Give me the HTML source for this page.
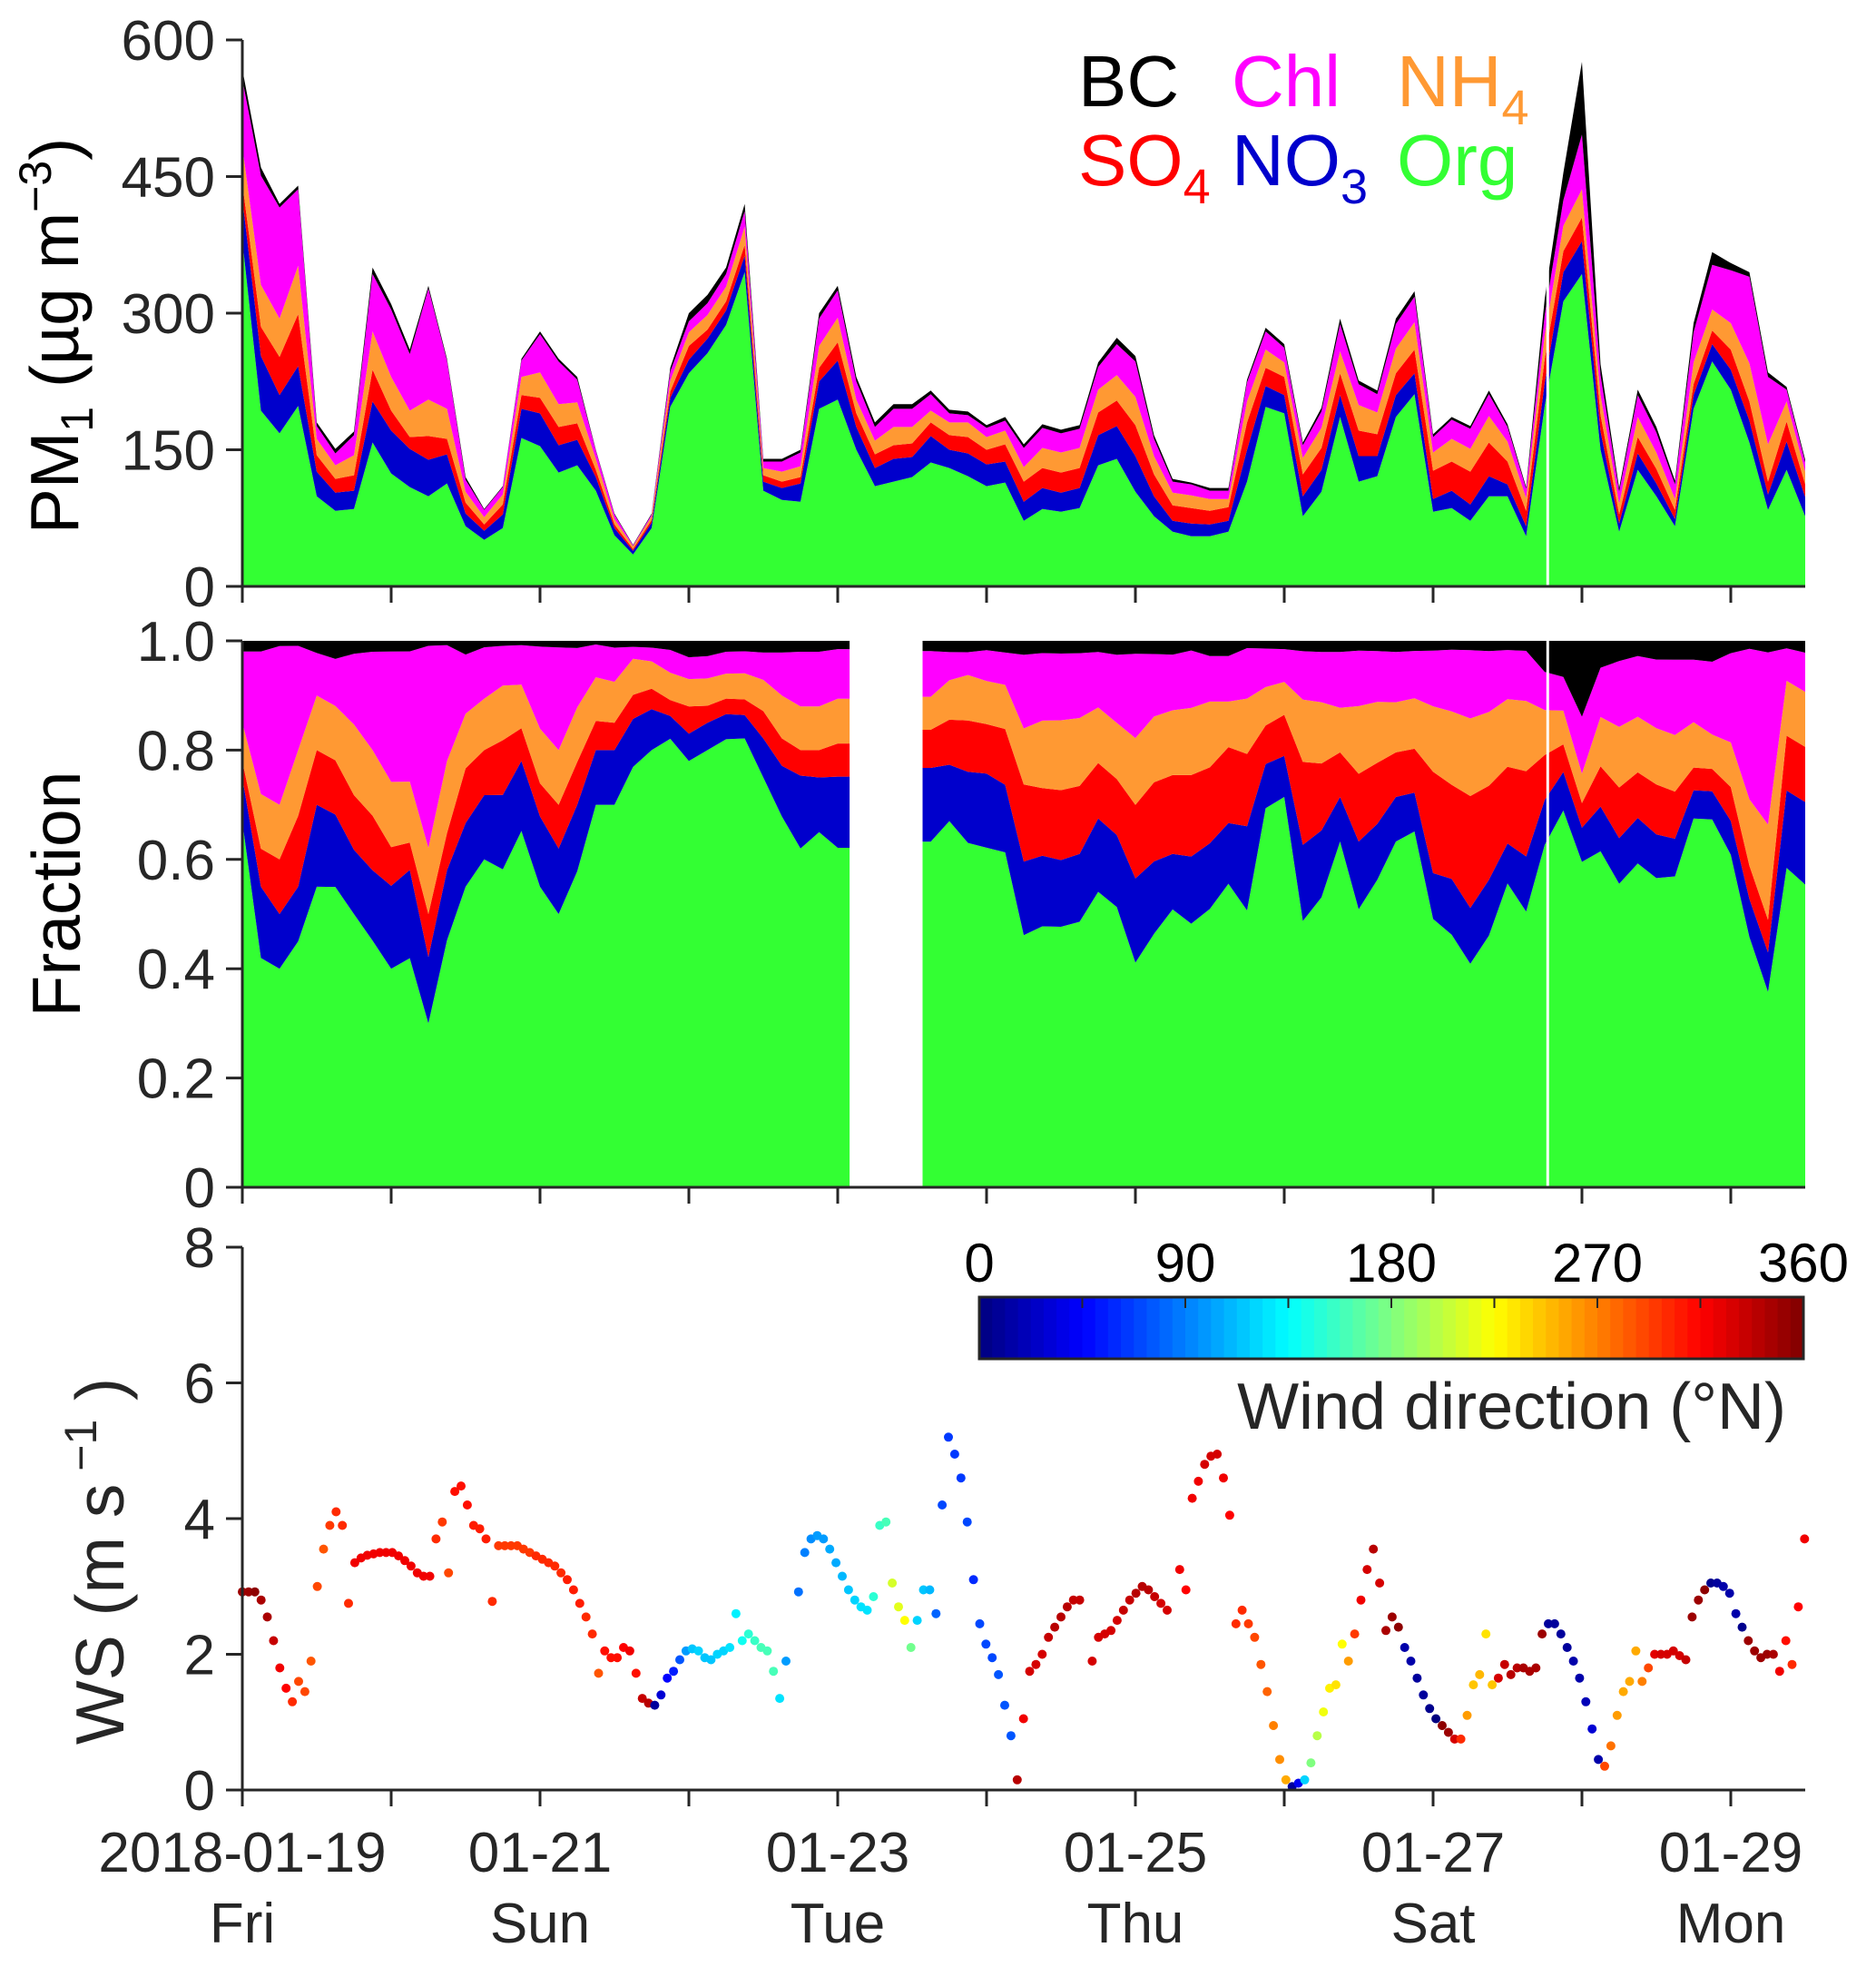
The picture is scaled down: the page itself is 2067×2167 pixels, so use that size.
<!DOCTYPE html>
<html><head><meta charset="utf-8"><style>
body{margin:0;background:#fff}
svg{display:block;font-family:"Liberation Sans",Arial,sans-serif}
</style></head><body>
<svg id="chart" width="2067" height="2167" viewBox="0 0 2067 2167" xmlns="http://www.w3.org/2000/svg">
<g id="g-top"></g>
<g id="g-mid"></g>
<g id="g-bot"></g>
<g id="g-axes"></g>
<g font-size="80">
<text x="1188" y="117" fill="#000">BC</text>
<text x="1357" y="117" fill="#ff00ff">Chl</text>
<text x="1539" y="117" fill="#ff9933">NH<tspan font-size="54" dy="20">4</tspan></text>
<text x="1188" y="204" fill="#ff0000">SO<tspan font-size="54" dy="20">4</tspan></text>
<text x="1357" y="204" fill="#0000cc">NO<tspan font-size="54" dy="20">3</tspan></text>
<text x="1539" y="204" fill="#33ff33">Org</text>
</g>
<text transform="translate(86,370) rotate(-90)" text-anchor="middle" font-size="75" fill="#000">PM<tspan font-size="50" dy="16">1</tspan><tspan dy="-16"> (µg m</tspan><tspan font-size="50" dy="-30">−3</tspan><tspan dy="30">)</tspan></text>
<text transform="translate(88,985) rotate(-90)" text-anchor="middle" font-size="75" fill="#000">Fraction</text>
<text transform="translate(136,1720) rotate(-90)" text-anchor="middle" font-size="75" fill="#262626">WS (m s<tspan font-size="50" dy="-30"> −1</tspan><tspan dy="30"> )</tspan></text>
<text x="1968" y="1574" text-anchor="end" font-size="72" fill="#262626">Wind direction (°N)</text>
</svg>
<script>
// ---- data: PM1 species (µg m-3), 3-hourly from 2018-01-19 00:00 ----
const stepDays = 0.125;
const org = [380,193,168,198,99,83,85,158,124,109,99,113,66,51,64,163,154,125,133,105,56,35,64,197,234,256,287,345,105,95,93,195,205,150,110,115,120,136,130,121,110,114,72,85,82,86,133,140,104,77,60,55,55,60,115,197,190,77,104,186,115,121,186,211,82,86,72,99,99,55,198,313,343,150,60,128,99,66,195,247,216,158,84,128,77];
const no3 = [46,60,42,44,27,20,20,45,47,42,40,32,14,10,15,32,36,30,28,15,8,4,6,10,15,16,16,18,10,13,20,30,43,25,20,25,22,29,20,25,24,23,21,23,21,22,33,36,39,22,12,14,13,12,35,23,20,22,24,24,28,22,24,23,14,19,18,22,13,11,26,32,36,20,9,18,14,8,15,19,22,24,17,31,21];
const so4 = [17,32,42,57,18,15,17,35,22,13,26,17,12,7,11,15,17,20,18,8,4,2,3,7,15,10,10,12,7,7,7,15,20,15,15,15,15,15,16,18,16,19,22,22,22,22,25,28,34,24,17,17,15,15,30,20,20,24,24,24,28,24,24,26,31,32,36,37,25,17,26,23,26,18,10,18,16,10,12,15,22,21,14,22,14];
const nh4 = [40,46,42,53,18,15,22,42,37,29,40,33,12,8,11,20,28,25,23,12,6,3,4,12,15,16,16,20,8,11,12,24,27,15,15,20,18,13,14,16,14,15,16,22,22,22,25,28,31,20,14,14,13,9,23,20,16,18,22,24,28,24,27,30,20,25,25,29,22,14,26,28,31,22,12,22,18,12,24,23,29,42,41,22,14];
const chl = [74,120,122,84,14,13,22,63,74,62,122,53,13,8,8,18,42,47,25,9,5,1,2,10,12,13,14,17,7,11,15,30,30,20,15,20,20,18,10,8,10,11,21,22,21,21,25,34,39,19,12,12,9,9,21,20,16,14,18,30,23,20,27,28,17,21,22,24,16,10,22,28,60,22,13,24,22,16,33,49,58,95,74,13,10];
const bc  = [11,9,4,4,4,5,4,7,6,5,3,2,3,1,1,2,3,3,3,1,1,0.5,1,4,9,9,7,8,3,3,3,6,5,5,5,5,5,4,4,4,3,4,4,4,4,4,5,7,6,4,3,2,3,3,3,4,4,3,4,6,4,4,6,6,3,3,3,4,3,2,18,30,80,12,4,6,6,4,10,14,8,5,5,3,3];
const fracGap = [4.08, 4.57];      // missing data in fraction panel (days)
const whiteLineDay = 8.77;
// ---- wind (hourly) ----
const windStepHours = 1.0076;
const ws = [2.92,2.92,2.92,2.8,2.55,2.2,1.8,1.5,1.3,1.6,1.45,1.9,3.0,3.55,3.9,4.1,3.9,2.75,3.35,3.42,3.46,3.48,3.5,3.5,3.5,3.45,3.38,3.3,3.2,3.15,3.15,3.7,3.95,3.2,4.4,4.48,4.2,3.9,3.85,3.7,2.78,3.6,3.6,3.6,3.6,3.55,3.5,3.45,3.4,3.35,3.3,3.2,3.1,2.95,2.75,2.55,2.3,1.72,2.05,1.95,1.95,2.1,2.05,1.72,1.35,1.28,1.25,1.4,1.65,1.75,1.92,2.05,2.08,2.05,1.95,1.92,2.0,2.05,2.1,2.6,2.2,2.3,2.2,2.1,2.05,1.75,1.35,1.9,null,2.92,3.5,3.7,3.75,3.7,3.55,3.35,3.15,2.95,2.8,2.7,2.65,2.85,3.9,3.95,3.05,2.7,2.5,2.1,2.5,2.95,2.95,2.6,4.2,5.2,4.95,4.6,3.95,3.1,2.45,2.15,1.95,1.7,1.25,0.8,0.15,1.05,1.75,1.85,2.0,2.25,2.4,2.55,2.7,2.8,2.8,null,1.9,2.25,2.3,2.35,2.5,2.65,2.8,2.9,3.0,2.95,2.85,2.75,2.65,null,3.25,2.95,4.3,4.55,4.8,4.92,4.95,4.6,4.05,2.45,2.65,2.45,2.25,1.85,1.45,0.95,0.45,0.15,0.05,0.1,0.15,0.4,0.8,1.15,1.5,1.55,2.15,1.9,2.3,2.8,3.25,3.55,3.05,2.35,2.55,2.4,2.1,1.9,1.65,1.4,1.2,1.05,0.95,0.85,0.75,0.75,1.1,1.55,1.7,2.3,1.55,1.65,1.85,1.7,1.8,1.8,1.75,1.8,2.3,2.45,2.45,2.3,2.1,1.9,1.65,1.3,0.9,0.45,0.35,0.65,1.1,1.45,1.6,2.05,1.6,1.8,2.0,2.0,2.0,2.05,1.98,1.92,2.55,2.8,2.95,3.05,3.05,3.0,2.9,2.6,2.4,2.2,2.05,1.95,2.0,2.0,1.75,2.2,1.85,2.7,3.7];
const wd = [350,350,355,345,345,335,320,315,300,290,290,285,290,285,295,300,300,300,320,320,320,320,320,320,320,320,320,320,320,320,320,300,295,290,310,310,310,305,305,305,300,295,295,295,295,295,295,300,300,300,300,300,305,305,305,300,300,285,310,310,310,315,320,310,335,340,10,30,45,55,75,100,115,120,115,115,120,120,125,130,140,150,155,160,160,160,125,100,null,85,90,95,100,100,105,105,110,115,120,125,125,150,155,160,210,215,225,175,120,115,110,80,70,65,65,65,70,60,70,70,70,75,75,75,340,320,330,330,330,335,340,340,340,335,335,null,330,330,330,330,330,335,335,340,340,340,335,330,330,null,320,315,320,320,330,330,330,320,315,300,300,295,290,285,280,270,265,255,10,40,120,180,200,220,230,235,225,260,295,320,330,340,330,345,350,355,15,15,10,10,5,0,355,350,330,300,260,245,250,235,245,330,335,340,340,345,345,345,350,10,10,10,10,15,15,20,30,15,290,275,260,255,255,255,270,290,325,330,330,330,330,335,350,350,355,5,10,15,15,15,5,350,350,350,350,345,320,310,300,315,320];
const dateLabels = ["2018-01-19","01-21","01-23","01-25","01-27","01-29"];
const dayLabels = ["Fri","Sun","Tue","Thu","Sat","Mon"];
const pmTicks = [0,150,300,450,600];
const fracTicks = [0,0.2,0.4,0.6,0.8,1.0];
const fracTickLabels = ["0","0.2","0.4","0.6","0.8","1.0"];
const wsTicks = [0,2,4,6,8];
const cbTicks = [0,90,180,270,360];

const NS="http://www.w3.org/2000/svg";
function mk(tag, attrs, parent){const e=document.createElementNS(NS,tag);for(const k in attrs)e.setAttribute(k,attrs[k]);parent.appendChild(e);return e;}
const X0=267, X1=1989, DAYS=10.5;
const xs = d => X0 + (X1-X0)*d/DAYS;
const yTop = v => 646 - (646-44)*v/600;
const yMid = v => 1308 - (1308-706)*v;
const yBot = v => 1972 - (1972-1374)*v/8;
const AX="#262626";
const series=[org,no3,so4,nh4,chl,bc];
const names=["org","no3","so4","nh4","chl","bc"];
const cols=["#33ff33","#0000cc","#ff0000","#ff9933","#ff00ff","#000000"];
const n=org.length;
const cum=[];
for(let i=0;i<n;i++){let s=0;const c=[0];for(let k=0;k<6;k++){s+=series[k][i];c.push(s);}cum.push(c);}

const gT=document.getElementById('g-top'), gM=document.getElementById('g-mid'), gB=document.getElementById('g-bot'), gA=document.getElementById('g-axes');
for(let k=0;k<6;k++){
  let d="";
  for(let i=0;i<n;i++) d+=(i?"L":"M")+xs(i*stepDays).toFixed(1)+","+yTop(Math.min(cum[i][k+1],600)).toFixed(1);
  for(let i=n-1;i>=0;i--) d+="L"+xs(i*stepDays).toFixed(1)+","+yTop(Math.min(cum[i][k],600)).toFixed(1);
  const p=mk('path',{d:d+"Z",fill:cols[k]},gT);
  
  
}
function segPts(a,b){const pts=[];for(let i=0;i<n;i++){const t=i*stepDays;if(t>=a&&t<=b)pts.push([t,i]);}return pts;}
const segs=[[0,fracGap[0]],[fracGap[1],DAYS]];
segs.forEach((sg,si)=>{
  const pts=segPts(sg[0],sg[1]);
  if(si===0) pts.push([fracGap[0],pts[pts.length-1][1]]);
  else pts.unshift([fracGap[1],pts[0][1]]);
  for(let k=0;k<6;k++){
    let d="";
    pts.forEach((p,j)=>{const c=cum[p[1]];d+=(j?"L":"M")+xs(p[0]).toFixed(1)+","+yMid(c[k+1]/c[6]).toFixed(1);});
    for(let j=pts.length-1;j>=0;j--){const c=cum[pts[j][1]];d+="L"+xs(pts[j][0]).toFixed(1)+","+yMid(c[k]/c[6]).toFixed(1);}
    const p=mk('path',{d:d+"Z",fill:cols[k]},gM);
    
    
  }
});
[[gT,44,646],[gM,706,1308]].forEach(([g,a,b])=>{
  const l=mk('line',{x1:xs(whiteLineDay),x2:xs(whiteLineDay),y1:a,y2:b,stroke:"#fff","stroke-width":3},g);
  
  
});
function jet(v){const c=x=>Math.round(255*Math.max(0,Math.min(1,1.5-Math.abs(x))));return `rgb(${c(4*v-3)},${c(4*v-2)},${c(4*v-1)})`;}
const CB0=1079,CB1=1987,CBy=1429,CBh=68;
for(let i=0;i<64;i++){
  const r=mk('rect',{x:CB0+(CB1-CB0)*i/64,y:CBy,width:(CB1-CB0)/64+0.8,height:CBh,fill:jet((i+0.5)/64)},gB);
  
  
}
const cbb=mk('rect',{x:CB0,y:CBy,width:CB1-CB0,height:CBh,fill:"none",stroke:AX,"stroke-width":3},gB);


for(let v=0;v<=360;v+=45){const x=CB0+(CB1-CB0)*v/360;mk('line',{x1:x,x2:x,y1:CBy,y2:CBy+12,stroke:AX,"stroke-width":2},gB);}
cbTicks.forEach(v=>{
  const t=mk('text',{x:CB0+(CB1-CB0)*v/360,y:1412,"text-anchor":"middle","font-size":60,fill:"#000"},gB);
  t.textContent=v;
  
  
});
ws.forEach((v,i)=>{
  if(v===null||wd[i]===null) return;
  const d=i*windStepHours/24;
  const c=mk('circle',{cx:xs(d).toFixed(1),cy:yBot(v).toFixed(1),r:5,fill:jet((wd[i]%360)/360)},gB);
  
  
});
function axis(ya,yb,ticks,labels,yf){
  mk('line',{x1:X0,x2:X0,y1:ya,y2:yb,stroke:AX,"stroke-width":3},gA);
  mk('line',{x1:X0,x2:X1,y1:yb,y2:yb,stroke:AX,"stroke-width":3},gA);
  for(let d=0;d<=10;d++) mk('line',{x1:xs(d),x2:xs(d),y1:yb,y2:yb+18,stroke:AX,"stroke-width":3},gA);
  ticks.forEach((v,i)=>{
    const y=yf(v);
    mk('line',{x1:X0-18,x2:X0,y1:y,y2:y,stroke:AX,"stroke-width":3},gA);
    const t=mk('text',{x:X0-30,y:y+22,"text-anchor":"end","font-size":62,fill:AX},gA);
    t.textContent=labels[i];
    
    
  });
}
axis(44,646,pmTicks,pmTicks.map(String),yTop);
axis(706,1308,fracTicks,fracTickLabels,yMid);
axis(1374,1972,wsTicks,wsTicks.map(String),yBot);
dateLabels.forEach((s,i)=>{
  const t=mk('text',{x:xs(2*i),y:2062,"text-anchor":"middle","font-size":62,fill:AX},gA);
  t.textContent=s;
  
  
  const w=mk('text',{x:xs(2*i),y:2140,"text-anchor":"middle","font-size":62,fill:AX},gA);
  w.textContent=dayLabels[i];
  
  
});
</script>
</body></html>
